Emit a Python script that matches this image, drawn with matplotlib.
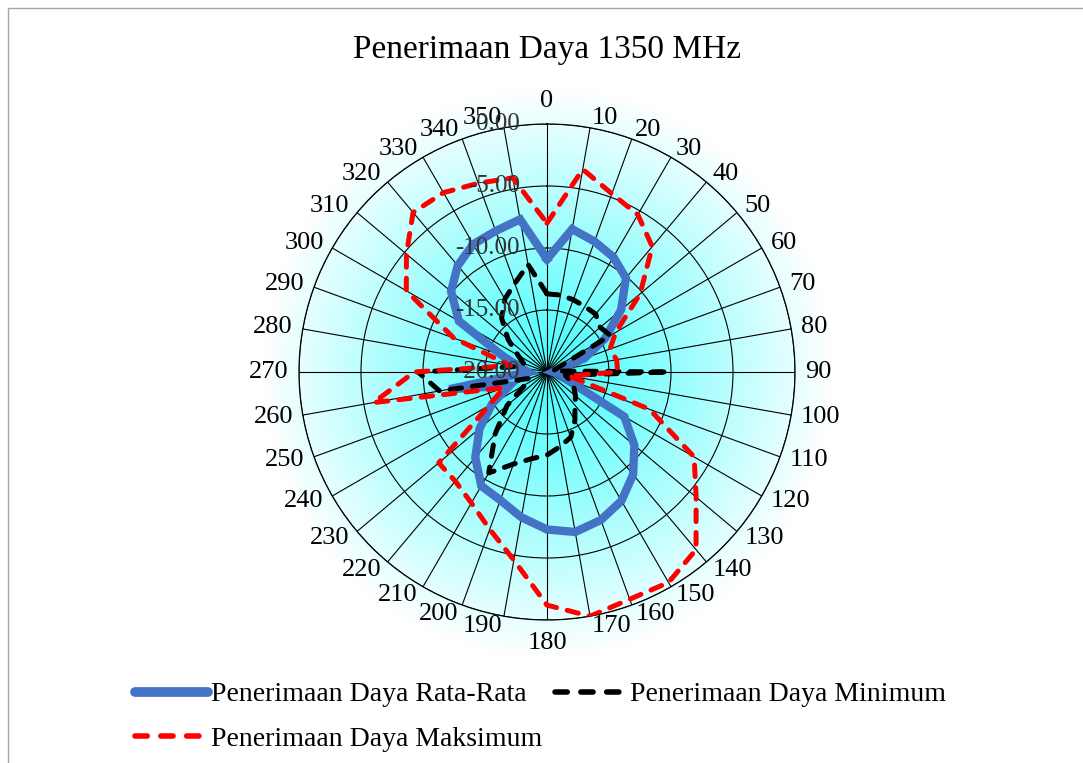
import numpy as np
import matplotlib
matplotlib.use("Agg")
import matplotlib.pyplot as plt
from matplotlib.lines import Line2D
from matplotlib.patches import Rectangle
from matplotlib.transforms import offset_copy

plt.rcParams['font.family'] = ['Liberation Serif', 'DejaVu Serif']

# sudut (derajat) dan nilai penerimaan daya (dB)
sudut = list(range(0, 360, 10))
rata_rata = [-10.9, -8.3, -8.8, -9.3, -10.1, -12.2, -14.6, -16.8, -19.2, -19.5,
             -19.0, -18.4, -12.8, -10.8, -9.2, -8.0, -7.3, -6.9, -7.3, -8.1,
             -9.0, -9.4, -11.0, -12.9, -14.9, -16.8, -12.0, -18.5, -17.8, -16.2,
             -11.8, -9.9, -8.8, -8.1, -7.9, -7.5]
minimum = [-13.7, -13.7, -13.8, -13.9, -13.9, -14.4, -14.1, -19.2, -19.5, -10.2,
           -18.5, -18.0, -17.5, -17.0, -16.5, -15.5, -14.4, -13.9, -13.3, -12.9,
           -12.1, -10.6, -13.5, -15.8, -18.0, -18.5, -11.2, -9.6, -17.5, -18.0,
           -17.3, -15.9, -14.3, -13.2, -12.4, -11.2]
maksimum = [-8.0, -3.4, -4.7, -5.35, -6.8, -10.2, -13.6, -14.6, -14.3, -14.3,
            -18.2, -11.2, -6.3, -4.3, -1.3, -0.4, -0.5, 0.0, -1.2, -4.6,
            -6.5, -7.8, -8.5, -8.6, -14.6, -16.3, -5.8, -9.3, -17.0, -12.0,
            -6.9, -5.2, -3.2, -3.3, -3.8, -4.1]
r_ticks = [-20, -15, -10, -5, 0]
r_labels = ['-20.00', '-15.00', '-10.00', '-5.00', '0.00']

W, H = 1083, 763
cx, cy, R = 547, 372, 248

fig = plt.figure(figsize=(W / 100, H / 100), dpi=100)

# latar gradien radial (cyan -> putih)
bg = fig.add_axes([0, 0, 1, 1], zorder=0)
yy, xx = np.mgrid[0:H, 0:W]
t = np.clip(np.hypot(xx - cx, yy - cy) / 285.0, 0, 1)
c0 = np.array([0.25, 0.99, 0.99])
img = c0[None, None, :] + (1 - c0[None, None, :]) * t[..., None]
bg.imshow(img, extent=[0, W, H, 0], aspect='auto')
bg.set_xlim(0, W)
bg.set_ylim(H, 0)
bg.axis('off')

# bingkai area grafik
fig.patches.append(Rectangle((8 / W, -0.1), 1.2, 1 - 8 / H + 0.1,
                             transform=fig.transFigure, fill=False,
                             edgecolor='#a6a6a6', lw=1.0, zorder=1))

ax = fig.add_axes([(cx - R) / W, 1 - (cy + R) / H, 2 * R / W, 2 * R / H],
                  projection='polar', zorder=2)
ax.patch.set_alpha(0)
ax.set_theta_zero_location('N')
ax.set_theta_direction(-1)
ax.set_ylim(-20, 0)

theta = np.deg2rad(sudut + [sudut[0]])


def tutup(v):
    return v + [v[0]]


ax.plot(theta, tutup(rata_rata), color='#4472c4', lw=6, solid_joinstyle='miter',
        zorder=3)
ax.plot(theta, tutup(minimum), color='black', lw=3.6, linestyle=(0, (2.3, 2.2)),
        dash_capstyle='round', zorder=4)
ax.plot(theta, tutup(maksimum), color='#ff0000', lw=3.6, linestyle=(0, (2.3, 2.2)),
        dash_capstyle='round', zorder=5)

ax.set_thetagrids(sudut, [''] * len(sudut))
ax.set_yticks(r_ticks)
ax.set_yticklabels([])
ax.grid(True, color='black', lw=0.8)
ax.spines['polar'].set_color('black')
ax.spines['polar'].set_linewidth(0.9)

# label sudut ala Excel
for s in sudut:
    a = np.deg2rad(s)
    sn, cs = np.sin(a), np.cos(a)
    ha = 'center' if abs(sn) < 0.01 else ('left' if sn > 0 else 'right')
    if abs(sn) < 0.01:
        va = 'bottom' if cs > 0 else 'top'
        k = 260 / R
    else:
        va = 'center'
        k = 258 / R
    ax.text(0.5 + 0.5 * k * sn, 0.5 + 0.5 * k * cs, str(s), transform=ax.transAxes,
            ha=ha, va=va, fontsize=19, clip_on=False)

lbl_tr = offset_copy(ax.transData, fig=fig, x=-27, y=0, units='dots')
for rv, lab in zip(r_ticks, r_labels):
    ax.text(0, rv, lab, transform=lbl_tr, ha='right', va='center', fontsize=18,
            color='#333333', zorder=6)

fig.text(cx / W, 1 - 50 / H, 'Penerimaan Daya 1350 MHz', ha='center', va='center',
         fontsize=24)

h_rata = Line2D([], [], color='#4472c4', lw=7, solid_capstyle='round')
h_maks = Line2D([], [], color='#ff0000', lw=4, linestyle=(0, (2.2, 2.45)),
                dash_capstyle='round')
h_min = Line2D([], [], color='black', lw=4, linestyle=(0, (2.2, 2.45)),
               dash_capstyle='round')
fig.legend(handles=[h_rata, h_maks, h_min],
           labels=['Penerimaan Daya Rata-Rata', 'Penerimaan Daya Maksimum',
                   'Penerimaan Daya Minimum'],
           ncol=2, loc='upper left', bbox_to_anchor=(135 / W, 1 - 682 / H),
           frameon=False, fontsize=20, handlelength=2.63, handletextpad=0.1,
           columnspacing=0.45, labelspacing=0.68, borderpad=0, borderaxespad=0)

fig.savefig('out.png', dpi=100)
